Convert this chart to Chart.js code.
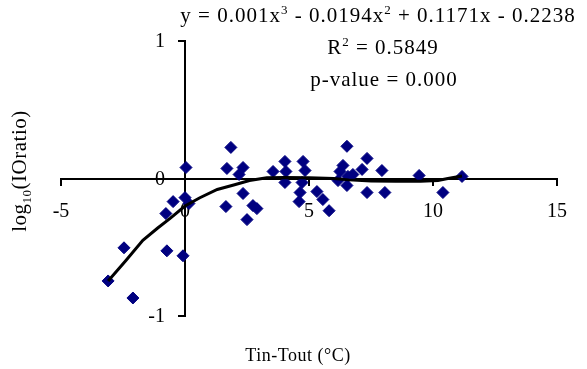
<!DOCTYPE html>
<html>
<head>
<meta charset="utf-8">
<script src="https://cdn.jsdelivr.net/npm/chart.js@4"></script>
<style>
  html, body { margin: 0; padding: 0; background: #fff; }
  canvas { display: block; }
</style>
</head>
<body>
<canvas id="chart" width="587" height="369"></canvas>
<script>
// valeurs
var obsX = [-3.10, -2.46, -2.10, -0.77, -0.73, -0.48, -0.08, 0.04, 0.00, 0.16,
            1.69, 1.85, 2.34, 2.18, 2.34, 1.65, 2.74, 2.90, 2.50, 3.55,
            4.03, 4.07, 4.03, 4.76, 4.84, 4.72, 4.64, 4.60, 5.32, 5.56,
            5.81, 6.53, 6.37, 6.25, 6.57, 6.17, 6.53, 7.14, 7.34, 6.77,
            7.34, 7.94, 8.06, 9.44, 10.40, 11.17];
var obsY = [-0.745, -0.504, -0.869, -0.255, -0.526, -0.168, -0.562, 0.080, -0.139, -0.182,
            0.073, 0.226, 0.080, 0.029, -0.109, -0.204, -0.197, -0.219, -0.299, 0.051,
            0.124, 0.051, -0.029, 0.124, 0.058, -0.029, -0.102, -0.168, -0.095, -0.153,
            -0.234, 0.234, 0.095, 0.051, 0.015, -0.015, -0.051, 0.066, 0.146, 0.029,
            -0.102, 0.058, -0.102, 0.022, -0.102, 0.015];

var fitX = [-3.10, -2.40, -1.70, -1.10, -0.60, 0.00, 0.60, 1.30, 2.00, 2.60, 3.30,
            4.00, 5.00, 6.00, 6.60, 7.50, 8.50, 9.50, 10.20, 10.60, 11.17];
var fitY = [-0.745, -0.60, -0.45, -0.36, -0.29, -0.20, -0.14, -0.08, -0.045, -0.015, 0.005,
            0.008, 0.005, 0.0, -0.01, -0.018, -0.02, -0.02, -0.015, 0.0, 0.018];

var xTicks = [-5, 0, 5, 10, 15];
var yTicks = [-1, 0, 1];

// [texte, 0 normal / 1 exposant / -1 indice]
var eqLine = [["y = 0.001x", 0], ["3", 1], [" - 0.0194x", 0], ["2", 1], [" + 0.1171x - 0.2238", 0]];
var r2Line = [["R", 0], ["2", 1], [" = 0.5849", 0]];
var pLine = [["p-value = 0.000", 0]];
var yTitle = [["log", 0], ["10", -1], ["(IOratio)", 0]];
var xTitle = "Tin-Tout (°C)";

var serif = '"Liberation Serif", "Times New Roman", serif';

function toPoints(xs, ys) {
    var out = [];
    for (var i = 0; i < xs.length; i++) out.push({ x: xs[i], y: ys[i] });
    return out;
}

function drawParts(ctx, parts, cx, baseline, size, spacing) {
    var small = Math.round(size * 0.62);
    ctx.letterSpacing = spacing + "px";
    ctx.textAlign = "left";
    ctx.textBaseline = "alphabetic";
    var total = 0;
    parts.forEach(function (p) {
        ctx.font = (p[1] ? small : size) + "px " + serif;
        total += ctx.measureText(p[0]).width;
    });
    var x = cx - total / 2;
    parts.forEach(function (p) {
        ctx.font = (p[1] ? small : size) + "px " + serif;
        var dy = p[1] === 1 ? -size * 0.4 : (p[1] === -1 ? size * 0.22 : 0);
        ctx.fillText(p[0], x, baseline + dy);
        x += ctx.measureText(p[0]).width;
    });
    ctx.letterSpacing = "0px";
}

var textPlugin = {
    id: "texts",
    beforeDatasetsDraw: function (chart) {
        // étiquettes de l'axe y, à gauche de l'axe qui passe par x = 0
        var ctx = chart.ctx;
        var xs = chart.scales.x, ys = chart.scales.y;
        var ax = xs.getPixelForValue(0);
        ctx.save();
        ctx.fillStyle = "#000";
        ctx.font = "20px " + serif;
        ctx.textAlign = "right";
        ctx.textBaseline = "middle";
        yTicks.forEach(function (v) {
            ctx.fillText(String(v), ax - 20, ys.getPixelForValue(v) + 1);
        });
        ctx.restore();
    },
    afterDraw: function (chart) {
        var ctx = chart.ctx;
        ctx.save();
        ctx.fillStyle = "#000";
        drawParts(ctx, eqLine, 378, 22, 21, 1);
        drawParts(ctx, r2Line, 383, 54, 21, 1);
        drawParts(ctx, pLine, 384, 86, 21, 1);

        ctx.font = "18px " + serif;
        ctx.letterSpacing = "0.5px";
        ctx.textAlign = "center";
        ctx.fillText(xTitle, 298, 361);
        ctx.letterSpacing = "0px";

        ctx.translate(26, 171);
        ctx.rotate(-Math.PI / 2);
        drawParts(ctx, yTitle, 0, 0, 21, 0.5);
        ctx.restore();
    }
};

var axisCommon = {
    grid: { display: true, drawOnChartArea: false, drawTicks: true, tickLength: 6, color: "#000", lineWidth: 2 },
    border: { display: true, color: "#000", width: 2 },
    title: { display: false }
};

var ctx = document.getElementById("chart").getContext("2d");
new Chart(ctx, {
    type: "scatter",
    data: {
        datasets: [{
            type: "line",
            data: toPoints(fitX, fitY),
            borderColor: "#000",
            borderWidth: 3,
            pointRadius: 0,
            fill: false,
            tension: 0
        }, {
            data: toPoints(obsX, obsY),
            pointStyle: "rectRot",
            pointRadius: 6,
            pointBorderWidth: 1,
            backgroundColor: "#000080",
            borderColor: "#000080"
        }]
    },
    options: {
        responsive: false,
        animation: false,
        layout: { padding: { left: 61, right: 30, top: 41, bottom: 53 } },
        plugins: { legend: { display: false }, tooltip: { enabled: false } },
        scales: {
            x: Object.assign({}, axisCommon, {
                type: "linear",
                min: -5, max: 15,
                position: { y: 0 },
                afterBuildTicks: function (s) { s.ticks = xTicks.map(function (v) { return { value: v }; }); },
                afterFit: function (s) { s.height = 0; },
                ticks: { color: "#000", font: { family: serif, size: 20 }, padding: 15, maxRotation: 0 }
            }),
            y: Object.assign({}, axisCommon, {
                type: "linear",
                min: -1, max: 1,
                position: { x: 0 },
                afterBuildTicks: function (s) { s.ticks = yTicks.map(function (v) { return { value: v }; }); },
                afterFit: function (s) { s.width = 0; },
                ticks: { display: false }
            })
        }
    },
    plugins: [textPlugin]
});
</script>
</body>
</html>
